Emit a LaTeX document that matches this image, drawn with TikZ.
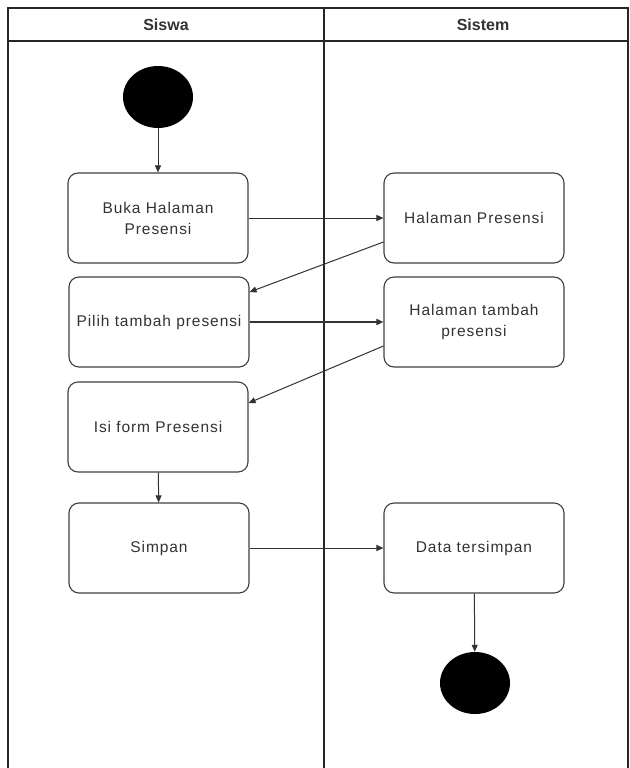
\documentclass[tikz,border=0pt]{standalone}
\usepackage{fontspec}
\setmainfont{Liberation Sans}
\newfontfamily\actfont[LetterSpace=6]{Liberation Sans}
\usetikzlibrary{arrows.meta,shapes.geometric}
\begin{document}
\begin{tikzpicture}[x=1pt,y=-1pt,
  act/.style={draw=black!75,line width=1.1pt,rounded corners=10pt,fill=white,
    minimum width=180pt,minimum height=90pt,align=center,font=\actfont\fontsize{15.5}{21}\selectfont,
    inner sep=2pt,text=black!80},
  dot/.style={ellipse,fill=black,minimum width=70pt,minimum height=62pt,inner sep=0pt},
  flow/.style={draw=black!80,line width=1pt,-{Triangle[length=7pt,width=6pt]}},
  lane/.style={draw=black!85,line width=1.6pt},
  head/.style={font=\fontsize{16}{18}\selectfont\bfseries,text=black!80}]
\useasboundingbox (0,0) rectangle (629,768);
\fill[white] (0,0) rectangle (629,768);
% swimlanes
\draw[lane] (8,775) -- (8,8) -- (628,8) -- (628,775);
\draw[lane] (8,41) -- (628,41);
\draw[draw=black!85,line width=1.1pt] (324,8) -- (324,775);
\node[head] (hsiswa) at (166,25) {Siswa};
\node[head] (hsistem) at (483,25) {Sistem};
% activity nodes
\node[dot] (start) at (158,97) {};
\node[act] (buka) at (158,218) {Buka Halaman\\Presensi};
\node[act] (hp) at (474,218) {Halaman Presensi};
\node[act] (pilih) at (159,322) {Pilih tambah presensi};
\node[act] (hpt) at (474,322) {Halaman tambah\\presensi};
\node[act] (isi) at (158,427) {Isi form Presensi};
\node[act] (simpan) at (159,548) {Simpan};
\node[act] (data) at (474,548) {Data tersimpan};
\node[dot] (stop) at (475,683) {};
% control flow
\draw[flow] (start) -- (buka);
\draw[flow] (buka) -- (hp);
\draw[flow] (hp.west |- 0,242) -- (pilih.east |- 0,292);
\draw[flow,line width=1.6pt] (pilih) -- (hpt);
\draw[flow] (hpt.west |- 0,346) -- (isi.east |- 0,403);
\draw[flow] (isi) -- (simpan);
\draw[flow] (simpan) -- (data);
\draw[flow] (data) -- (stop);
\end{tikzpicture}
\end{document}
